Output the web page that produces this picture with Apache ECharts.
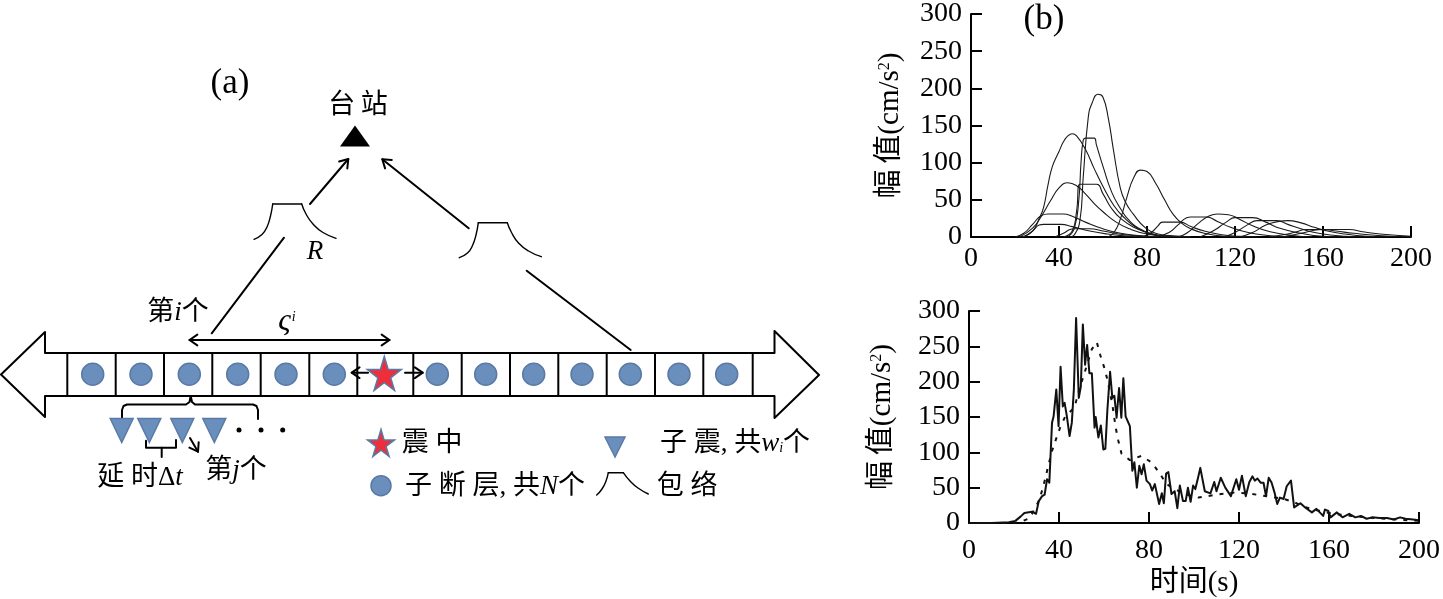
<!DOCTYPE html>
<html>
<head>
<meta charset="utf-8">
<title>chart</title>
<script src="https://cdn.jsdelivr.net/npm/echarts@6/dist/echarts.min.js"></script>
<style>
  html, body { margin: 0; padding: 0; background: #fff; }
  #main { width: 1443px; height: 599px; }
</style>
</head>
<body>
<div id="main"></div>
<script>
// (b) 上图: 各子断层包络 [时间, 幅值]
const env1 = [[45,0],[47,3],[49.5,22],[51,80],[53.3,161],[55,180],[57.8,192],[60,188],[62.4,160],[64.7,118],[67.7,68],[70,48],[73.7,31],[79.4,12],[85,4],[90,2],[100,0]];
const env2 = [[23,0],[28,8],[31,25],[33,40],[35,70],[37,95],[40,115],[42,128],[44,136],[46,139],[48,136],[52,118],[56,92],[60,68],[65,42],[70,25],[75,13],[80,6],[90,1],[100,0]];
const env3 = [[44,0],[47,12],[49,50],[50,100],[51,130],[52,133],[56,133],[57,124],[60,95],[64,60],[68,38],[72,22],[78,9],[85,2],[95,0]];
const env4 = [[22,0],[28,12],[32,28],[36,48],[40,66],[44,73],[48,69],[52,58],[56,45],[60,34],[66,20],[72,11],[80,4],[90,1],[100,0]];
const env5 = [[42,0],[46,8],[48,35],[49.5,71],[57,71],[60,58],[64,38],[68,25],[74,13],[80,6],[88,1],[95,0]];
const env6 = [[20,0],[24,5],[28,17],[32,29],[35,31],[42,31],[46,28],[52,20],[60,11],[68,5],[76,2],[85,0]];
const env7 = [[24,0],[28,8],[31,16],[33,17],[41,17],[46,14],[54,8],[62,4],[72,1],[80,0]];
const env8 = [[38,0],[42,5],[45,10],[47,11],[54,11],[60,8],[70,3],[80,1],[90,0]];
const env9 = [[62,0],[65,6],[68,25],[71,55],[74,80],[77,90],[80,88],[84,72],[88,50],[92,30],[96,18],[100,11],[106,5],[115,1],[125,0]];
const env10 = [[78,0],[82,6],[85,15],[87,20],[95,20],[100,14],[106,8],[114,3],[122,1],[130,0]];
const env11 = [[84,0],[90,6],[94,16],[98,26],[100,27],[107,27],[112,21],[118,13],[126,6],[135,2],[145,0]];
const env12 = [[94,0],[98,5],[104,20],[108,28],[112,31],[117,30],[122,24],[128,15],[136,7],[146,2],[155,0]];
const env13 = [[104,0],[110,8],[116,20],[120,26],[128,26],[134,20],[140,12],[150,5],[160,1],[170,0]];
const env14 = [[115,0],[120,6],[126,17],[130,22],[139,22],[144,17],[150,11],[158,5],[170,1],[180,0]];
const env15 = [[122,0],[128,6],[134,16],[140,21],[144,22],[150,19],[156,13],[162,8],[170,4],[180,1],[190,0]];
const env16 = [[135,0],[142,3],[148,7],[152,10],[160,10],[166,8],[174,5],[185,2],[200,0]];
const env17 = [[142,0],[150,5],[156,9],[160,10],[172,10],[178,7],[186,4],[200,1]];
const envelopes = [env1, env2, env3, env4, env5, env6, env7, env8, env9, env10, env11, env12, env13, env14, env15, env16, env17];

// (b) 下图: 实线
const obsTime = [0,10,17.7,20.6,22.9,24.6,28,29.8,31,32.5,33.6,34.7,35.7,36.9,37.6,38.8,39.8,40.7,41.7,42.5,43.5,44.7,45.7,46.6,47.6,48.8,49.7,50.6,51.6,52.5,53.5,54.6,55.8,56.3,57.5,58.6,59.7,60.6,61.5,62.7,63.7,64.6,65.6,66.7,67.7,68.6,69.6,71.5,72.6,73.5,74.6,75.7,76.7,77.7,78.9,80.4,81.4,82.6,84.5,85.7,86.6,87.6,88.6,90,91.4,92.6,93.7,95.1,96.3,97.3,98.5,99.6,100.6,101.8,102.8,104.8,107.3,109,110,111.9,113.9,116.4,118.8,120,121.3,123,124.6,126,127,128.2,129.6,130.9,132,133.2,134.5,135.8,137,138.2,139.8,141.2,143.1,144.5,147.3,149.4,152.4,154.4,157.4,158.2,159.7,160.7,163.5,166,169,171.7,174.2,176.7,179.2,182.5,185.8,188.8,191.6,194,197.4,199.8];
const obsAmp = [0,0,1,3,9,14,16,13,31,38,40,62,57,142,151,189,137,221,165,170,151,123,142,189,290,177,193,281,224,252,212,212,135,150,121,138,104,105,160,214,177,180,149,191,149,205,151,137,74,86,50,81,69,83,60,55,46,55,27,42,28,70,72,41,45,21,53,31,31,50,30,53,48,64,78,45,42,58,45,64,50,38,62,47,67,38,58,66,60,63,57,57,38,64,57,43,27,36,34,52,60,22,28,22,15,20,10,19,17,8,15,8,13,8,10,6,8,7,7,5,8,6,5,4];
// (b) 下图: 虚线
const synTime = [0,20,22,24,27,31,32.7,34.2,35.4,36.9,38.6,40.5,42.8,46.8,49.4,51.3,54.6,56.8,58.3,60,61.5,63.7,65.2,66.4,67.8,71.5,76.7,81.4,84.8,87.8,92,97,102,106,112,118,124,130,136,140,144,150,156,162,170,180,190,200];
const synAmp = [0,0,1,3,7,31,48,67,83,102,118,135,151,163,193,212,246,256,238,221,203,168,135,116,98,89,95,85,70,55,47,40,36,38,41,43,42,39,36,34,30,22,17,13,10,7,5,3];

const yTicks = [0, 50, 100, 150, 200, 250, 300];
const xTicks = [0, 40, 80, 120, 160, 200];

// (a) 示意图, 坐标系就是整张画布
const cellEdges = [67.3,115.7,164,212.3,260.7,309.3,357.3,413.3,461.7,510,558.3,606.7,655,703.3,752.7];
const faultX = [92.7,141,189.3,237.7,286,334.3,437.3,485.7,533.7,582,630.3,679,726.7];
const subEventX = [121.7,149.3,182.3,214.3];
const dotX = [239,261,282.7];
const faultBody = [[45,353],[45,332],[1,374.5],[45,417],[45,396],[774.5,396],[774.5,418],[819,375],[774.5,331],[774.5,353],[45,353]];
const plainLines = [
  [[211.7,333.3],[284,237.7]],
  [[526.7,270.7],[630.7,350]],
  [[122,418],[122,410],[123.5,406],[127,404.5],[186,404.5],[189.5,402],[190.7,396],[192,402],[195,404.5],[253,404.5],[256.5,406],[258,410],[258,419]],
  [[146,440.7],[146,447.7],[176,447.7],[176,440]],
  [[161.7,447.7],[161.7,457]]
];
const arrows = [
  [[189.5,340],[389.5,340],true],
  [[310,204],[348.3,159],false],
  [[468.7,228.3],[382.3,159.3],false],
  [[368,372.7],[351.7,372.7],false],
  [[405,372.7],[422.7,372.7],false],
  [[190,438],[198,451.7],false]
];
const pulseTops = [
  [[272.7,204],[301.7,204]],
  [[478.3,222.7],[507.3,222.7]],
  [[608.3,472.7],[623.3,472.7]]
];
const pulseArcs = [
  [[254,239.3],[262,234.5],[267,227],[270.5,216],[272.7,204]],
  [[301.7,204],[306,214],[313,224],[323,232.5],[336,238.3]],
  [[459.3,257.7],[467.5,253],[472.5,245.5],[476,235],[478.3,222.7]],
  [[507.3,222.7],[511.5,232.5],[518.5,243],[528.5,251],[541.3,256.7]],
  [[596.7,495],[602,489],[606,481],[608.3,472.7]],
  [[623.3,472.7],[630,481],[638,488],[648.3,494]]
];
const diagramTexts = [
  [230,84,'{en|(a)}'],
  [358,106,'{zh|台\u2009站}'],
  [315,252,'{it|R}'],
  [178,313,'{zh|第}{it|i}{zh|个}'],
  [287,322,'{big|ς}{sm|i}'],
  [140,478,'{zh|延 时}{en24|Δ}{it|t}'],
  [236,471,'{zh|第}{it|j}{zh|个}'],
  [432,444,'{zh|震 中}'],
  [735,444,'{zh|子 震, 共}{it|w}{smsub|i}{zh|个}'],
  [495,487,'{zh|子 断 层, 共}{it|N}{zh|个}'],
  [687,487,'{zh|包 络}'],
  [1044,20,'{en|(b)}']
];

const SERIF = '"Liberation Serif", "Noto Sans CJK SC", serif';
const STAR = 'path://M50 0L61 35L98 35L68 57L79 91L50 70L21 91L32 57L2 35L39 35Z';
const BLUE = '#6b8fbd';
const BLUE_EDGE = '#5a7aa6';

// 开口箭头, 返回几段折线
function openArrow(from, to, both) {
  const head = 9.5;
  const ang = Math.atan2(to[1] - from[1], to[0] - from[0]);
  const tip = (p, a) => [
    [p[0] - head * Math.cos(a - 0.6), p[1] - head * Math.sin(a - 0.6)],
    p,
    [p[0] - head * Math.cos(a + 0.6), p[1] - head * Math.sin(a + 0.6)]
  ];
  const out = [[from, to], tip(to, ang)];
  if (both) out.push(tip(from, ang + Math.PI));
  return out;
}

function polyline(points, width, smooth) {
  return {
    type: 'line', xAxisIndex: 0, yAxisIndex: 0, data: points, showSymbol: false, silent: true,
    smooth: smooth || false,
    lineStyle: { width: width, color: '#000', cap: 'round', join: 'round' }, z: 3
  };
}

const series = [];

// 示意图的线
series.push(polyline(faultBody, 2));
cellEdges.forEach(x => series.push(polyline([[x, 353], [x, 396]], 2)));
plainLines.forEach(l => series.push(polyline(l, 2)));
arrows.forEach(a => openArrow(a[0], a[1], a[2]).forEach(l => series.push(polyline(l, 2))));
pulseTops.forEach(l => series.push(polyline(l, 1.4)));
pulseArcs.forEach(l => series.push(polyline(l, 1.4, 0.5)));

// 示意图的符号
function marks(points, symbol, size, color, edge, rotate) {
  return {
    type: 'scatter', xAxisIndex: 0, yAxisIndex: 0, data: points, symbol: symbol, symbolSize: size,
    symbolRotate: rotate || 0, silent: true, z: 4,
    itemStyle: { color: color, borderColor: edge, borderWidth: edge ? 1.5 : 0, opacity: 1 }
  };
}
series.push(marks(faultX.map(x => [x, 374.3]), 'circle', 22, BLUE, BLUE_EDGE));
series.push(marks(subEventX.map(x => [x, 430.5]), 'triangle', [23, 24], BLUE, BLUE_EDGE, 180));
series.push(marks(dotX.map(x => [x, 430]), 'circle', 5, '#000'));
series.push(marks([[384.3, 373.5]], STAR, 34, '#ee2e3b', BLUE_EDGE));
series.push(marks([[381, 443]], STAR, 27, '#ee2e3b', BLUE_EDGE));
series.push(marks([[381, 485.7]], 'circle', 20, BLUE, BLUE_EDGE));
series.push(marks([[615, 447]], 'triangle', [20, 20], BLUE, BLUE_EDGE, 180));
series.push(marks([[355, 136]], 'triangle', [30, 21], '#000'));

// 示意图的文字
const richBase = { color: '#000', opacity: 1, textBorderWidth: 0, textShadowBlur: 0 };
series.push({
  type: 'scatter', xAxisIndex: 0, yAxisIndex: 0, symbolSize: 1, silent: true, z: 5,
  itemStyle: { color: '#fff', opacity: 1 },
  data: diagramTexts.map(t => ({ value: [t[0], t[1]], text: t[2] })),
  label: {
    show: true, position: 'inside', align: 'center', verticalAlign: 'middle', color: '#000', opacity: 1, textBorderWidth: 0,
    formatter: p => p.data.text,
    rich: {
      en: Object.assign({ fontFamily: SERIF, fontSize: 35 }, richBase),
      en24: Object.assign({ fontFamily: SERIF, fontSize: 27 }, richBase),
      zh: Object.assign({ fontFamily: SERIF, fontSize: 27 }, richBase),
      it: Object.assign({ fontFamily: SERIF, fontSize: 27, fontStyle: 'italic' }, richBase),
      big: Object.assign({ fontFamily: SERIF, fontSize: 31, fontStyle: 'italic' }, richBase),
      sm: Object.assign({ fontFamily: SERIF, fontSize: 14, fontStyle: 'italic', padding: [0, 0, 10, 1] }, richBase),
      smsub: Object.assign({ fontFamily: SERIF, fontSize: 14, fontStyle: 'italic', padding: [8, 0, 0, 0] }, richBase)
    }
  }
});

// (b) 曲线
envelopes.forEach(e => series.push({
  type: 'line', xAxisIndex: 1, yAxisIndex: 1, data: e, showSymbol: false, silent: true,
  smooth: 0.5, lineStyle: { width: 1.1, color: '#1a1a1a' }
}));
series.push({
  type: 'line', xAxisIndex: 2, yAxisIndex: 2, showSymbol: false, silent: true,
  data: synTime.map((t, i) => [t, synAmp[i]]),
  lineStyle: { width: 2, color: '#111', type: [4, 7] }
});
series.push({
  type: 'line', xAxisIndex: 2, yAxisIndex: 2, showSymbol: false, silent: true,
  data: obsTime.map((t, i) => [t, obsAmp[i]]),
  lineStyle: { width: 2, color: '#111', join: 'round' }
});

function timeAxis(gridIndex, margin, extra) {
  return Object.assign({
    type: 'value', gridIndex: gridIndex, min: xTicks[0], max: xTicks[xTicks.length - 1], interval: 40,
    splitLine: { show: false },
    axisLine: { show: true, onZero: false, lineStyle: { color: '#000', width: 2 } },
    axisTick: { show: true, inside: true, length: 11, lineStyle: { color: '#000', width: 2 } },
    axisLabel: { fontFamily: SERIF, fontSize: 28, color: '#000', margin: margin, showMinLabel: true, showMaxLabel: true }
  }, extra || {});
}

function ampAxis(gridIndex, nameGap, labelDrop) {
  return {
    type: 'value', gridIndex: gridIndex, min: yTicks[0], max: yTicks[yTicks.length - 1], interval: 50,
    splitLine: { show: false },
    axisLine: { show: true, onZero: false, lineStyle: { color: '#000', width: 2 } },
    axisTick: { show: true, inside: true, length: 11, lineStyle: { color: '#000', width: 2 } },
    axisLabel: {
      fontFamily: SERIF, fontSize: 28, color: '#000', margin: 9, showMinLabel: true, showMaxLabel: true,
      padding: [labelDrop, 0, 0, 0]
    },
    name: '幅\u2009值(cm/s{sup|2})', nameLocation: 'middle', nameRotate: 90, nameGap: nameGap,
    nameTextStyle: {
      fontFamily: SERIF, fontSize: 29, color: '#000',
      rich: { sup: { fontFamily: SERIF, fontSize: 16, color: '#000', padding: [0, 0, 12, 0] } }
    }
  };
}

const chart = echarts.init(document.getElementById('main'), null, { renderer: 'canvas' });
chart.setOption({
  animation: false,
  backgroundColor: '#fff',
  grid: [
    { left: 0, top: 0, width: 1443, height: 599 },
    { left: 971, top: 10, width: 440, height: 227 },
    { left: 969, top: 311, width: 453, height: 213 }
  ],
  xAxis: [
    { type: 'value', gridIndex: 0, min: 0, max: 1443, show: false },
    timeAxis(1, 8),
    timeAxis(2, 14, {
      name: '时间(s)', nameLocation: 'middle', nameGap: 46,
      nameTextStyle: { fontFamily: SERIF, fontSize: 29, color: '#000' }
    })
  ],
  yAxis: [
    { type: 'value', gridIndex: 0, min: 0, max: 599, inverse: true, show: false },
    ampAxis(1, 66, 3),
    ampAxis(2, 72, 5)
  ],
  series: series
});
</script>
</body>
</html>
